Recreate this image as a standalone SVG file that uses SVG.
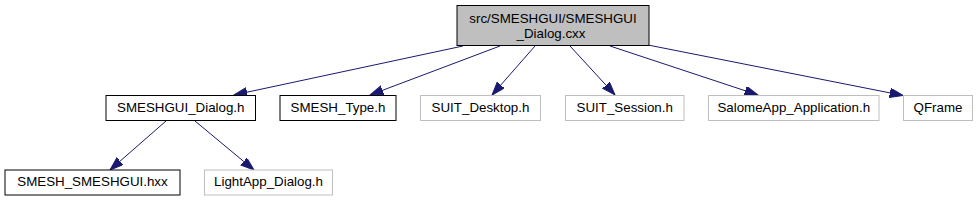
<svg xmlns="http://www.w3.org/2000/svg" width="978" height="201" viewBox="0 0 978 201">
<style>
  .node rect { fill: #ffffff; stroke: #000000; stroke-width: 1; }
  .node.ext rect { stroke: #bfbfbf; }
  .node.root rect { fill: #bfbfbf; stroke: #000000; }
  .node text { font-family: "Liberation Sans", Arial, sans-serif; font-size: 13.33px; fill: #000000; text-anchor: middle; }
  .edges line { stroke: #191970; stroke-width: 1; marker-end: url(#arrow); }
</style>
<defs>
  <marker id="arrow" markerUnits="userSpaceOnUse" markerWidth="14" markerHeight="10" refX="0" refY="4.67" orient="auto">
    <path d="M0,0 L13.3,4.67 L0,9.33 Z" fill="#191970" stroke="#191970" stroke-width="1"/>
  </marker>
</defs>
<rect width="978" height="201" fill="#ffffff"/>
<g id="edges" class="edges">
  <line x1="463" y1="46" x2="247" y2="92.2"/>
  <line x1="500" y1="46" x2="382.5" y2="90.3"/>
  <line x1="535" y1="46" x2="500.8" y2="85"/>
  <line x1="570" y1="46" x2="606" y2="85.2"/>
  <line x1="610" y1="46" x2="745.4" y2="90.8"/>
  <line x1="648" y1="45" x2="890" y2="92.9"/>
  <line x1="166" y1="121" x2="120" y2="161.2"/>
  <line x1="195" y1="121" x2="243.8" y2="161.5"/>
</g>
<g id="node-root" class="node root">
  <rect x="457" y="5.5" width="192" height="40"/>
  <text x="553" y="22.5">src/SMESHGUI/SMESHGUI</text>
  <text x="551" y="37.5">_Dialog.cxx</text>
</g>
<g id="node-smeshgui-dialog-h" class="node">
  <rect x="106" y="95.5" width="149.5" height="25"/>
  <text x="180.75" y="111.5">SMESHGUI_Dialog.h</text>
</g>
<g id="node-smesh-type-h" class="node">
  <rect x="280" y="95.5" width="116" height="25"/>
  <text x="338" y="111.5">SMESH_Type.h</text>
</g>
<g id="node-suit-desktop-h" class="node ext">
  <rect x="420.5" y="95.5" width="120" height="25"/>
  <text x="480.5" y="111.5">SUIT_Desktop.h</text>
</g>
<g id="node-suit-session-h" class="node ext">
  <rect x="565.5" y="95.5" width="118.5" height="25"/>
  <text x="624.75" y="111.5">SUIT_Session.h</text>
</g>
<g id="node-salomeapp-application-h" class="node ext">
  <rect x="708.5" y="95.5" width="170.5" height="25"/>
  <text x="793.75" y="111.5">SalomeApp_Application.h</text>
</g>
<g id="node-qframe" class="node ext">
  <rect x="903.5" y="95.5" width="69" height="25"/>
  <text x="938" y="111.5">QFrame</text>
</g>
<g id="node-smesh-smeshgui-hxx" class="node">
  <rect x="5" y="170" width="175" height="25"/>
  <text x="92.5" y="185.5">SMESH_SMESHGUI.hxx</text>
</g>
<g id="node-lightapp-dialog-h" class="node ext">
  <rect x="204.5" y="170" width="128" height="25"/>
  <text x="268.5" y="185.5">LightApp_Dialog.h</text>
</g>
</svg>
